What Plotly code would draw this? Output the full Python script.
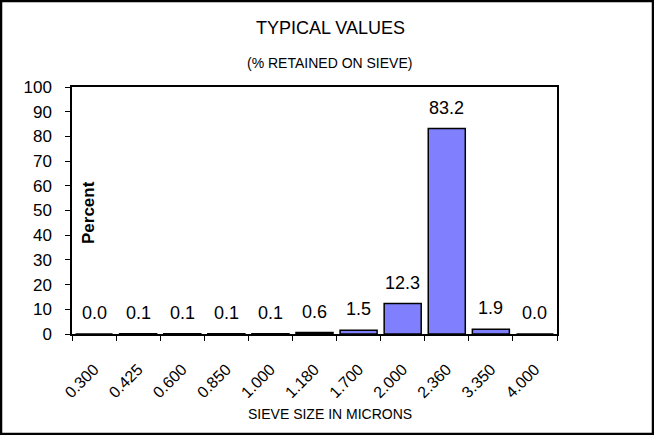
import plotly.graph_objects as go

sizes = ["0.300", "0.425", "0.600", "0.850", "1.000", "1.180", "1.700", "2.000", "2.360", "3.350", "4.000"]
percent = [0.0, 0.1, 0.1, 0.1, 0.1, 0.6, 1.5, 12.3, 83.2, 1.9, 0.0]
y_ticks = list(range(0, 101, 10))

W, H = 654, 435
L, R, T, B = 72, 557, 87, 334

fig = go.Figure()
fig.add_trace(go.Bar(
    x=sizes, y=percent,
    marker=dict(color="#8080FF", line=dict(color="black", width=1.5)),
    cliponaxis=False,
    width=0.84,
    hoverinfo="skip",
))

def px_to_paper_x(px):
    return (px - L) / (R - L)

def px_to_paper_y(py):
    return (B - py) / (B - T)

# category axis: annotation x is the category index
value_labels = [
    dict(x=i, y=v, xref="x", yref="y", text=f"{v:.1f}", showarrow=False,
         xanchor="center", yanchor="bottom", yshift=9,
         font=dict(size=18, color="black"))
    for i, v in enumerate(percent)
]

fig.update_layout(
    width=W, height=H,
    margin=dict(l=L, r=W - R, t=T, b=H - B, pad=0),
    paper_bgcolor="white", plot_bgcolor="white",
    font=dict(family="Liberation Sans, Arial, sans-serif", color="black"),
    showlegend=False,
    bargap=0.16,
    xaxis=dict(
        type="category",
        tickangle=-45,
        tickfont=dict(size=16),
        showline=True, linecolor="black", linewidth=1.5,
        mirror=True,
        ticks="outside", ticklen=5, tickcolor="black",
        tickson="boundaries",
        ticklabelstandoff=18,
        showgrid=False,
    ),
    yaxis=dict(
        range=[0, 100],
        tickvals=y_ticks,
        tickfont=dict(size=17),
        showline=True, linecolor="black", linewidth=1.5,
        mirror=True,
        ticks="outside", ticklen=5, tickcolor="black",
        ticklabelstandoff=10,
        showgrid=False,
        zeroline=False,
    ),
    shapes=[dict(
        type="rect", xref="paper", yref="paper",
        x0=px_to_paper_x(1), x1=px_to_paper_x(W - 1),
        y0=px_to_paper_y(H - 1), y1=px_to_paper_y(1),
        line=dict(color="black", width=2.5), fillcolor="rgba(0,0,0,0)",
        layer="above",
    )],
    annotations=value_labels + [
        dict(text="TYPICAL VALUES", xref="paper", yref="paper",
             x=px_to_paper_x(330), y=px_to_paper_y(28), showarrow=False,
             font=dict(size=18), xanchor="center", yanchor="middle"),
        dict(text="(% RETAINED ON SIEVE)", xref="paper", yref="paper",
             x=px_to_paper_x(329), y=px_to_paper_y(63), showarrow=False,
             font=dict(size=14), xanchor="center", yanchor="middle"),
        dict(text="SIEVE SIZE IN MICRONS", xref="paper", yref="paper",
             x=px_to_paper_x(330), y=px_to_paper_y(414), showarrow=False,
             font=dict(size=14), xanchor="center", yanchor="middle"),
        dict(text="<b>Percent</b>", xref="paper", yref="paper",
             x=px_to_paper_x(88), y=px_to_paper_y(213), showarrow=False,
             textangle=-90, font=dict(size=17), xanchor="center", yanchor="middle"),
    ],
)

fig.write_html(
    "out.html",
    config=dict(displayModeBar=False),
    post_script="document.body.style.margin='0';document.body.style.overflow='hidden';",
)
